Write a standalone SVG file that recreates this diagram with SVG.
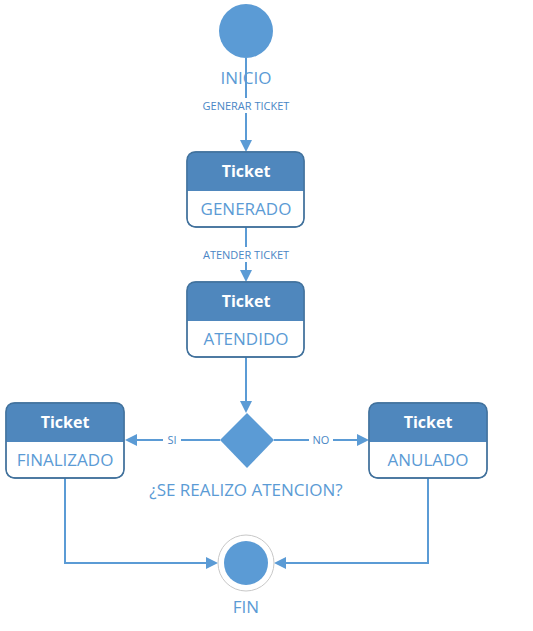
<svg xmlns="http://www.w3.org/2000/svg" width="533" height="631" viewBox="0 0 533 631">
<style>
.ln{stroke:#5b9bd5;stroke-width:2;fill:none}
.box{fill:#fff;stroke:#41719c;stroke-width:1.3}
.hdr{fill:#4f87bd}
.ttl{font-family:"Open Sans","Liberation Sans",sans-serif;font-weight:bold;font-size:16px;fill:#fff;text-anchor:middle}
.st{font-family:"Open Sans","Liberation Sans",sans-serif;font-size:17px;fill:#5b9bd5;text-anchor:middle}
.lbl{font-family:"Open Sans","Liberation Sans",sans-serif;font-size:11px;fill:#4a86c5;text-anchor:middle}
.big{font-family:"Open Sans","Liberation Sans",sans-serif;font-size:17px;fill:#5b9bd5;text-anchor:middle}
</style>
<rect width="533" height="631" fill="#fff"/>
<g id="connectors">
<line class="ln" x1="246" y1="58" x2="246" y2="141"/>
<path d="M240,140 L246,152 L252,140 Z" fill="#5b9bd5"/>
<rect x="196" y="98" width="100" height="15" fill="#fff"/>
<text class="lbl" x="246" y="110">GENERAR TICKET</text>
<line class="ln" x1="246" y1="227" x2="246" y2="271"/>
<path d="M240,270 L246,282 L252,270 Z" fill="#5b9bd5"/>
<rect x="196" y="247" width="100" height="15" fill="#fff"/>
<text class="lbl" x="246" y="259">ATENDER TICKET</text>
<line class="ln" x1="246" y1="357" x2="246" y2="402"/>
<path d="M240,401 L246,413 L252,401 Z" fill="#5b9bd5"/>
<line class="ln" x1="220" y1="440" x2="136" y2="440"/>
<path d="M137,434 L125,440 L137,446 Z" fill="#5b9bd5"/>
<rect x="163" y="432" width="18" height="15" fill="#fff"/>
<text class="lbl" x="172" y="444">SI</text>
<line class="ln" x1="274" y1="440" x2="358" y2="440"/>
<path d="M357,434 L369,440 L357,446 Z" fill="#5b9bd5"/>
<rect x="309" y="432" width="24" height="15" fill="#fff"/>
<text class="lbl" x="321" y="444">NO</text>
<polyline class="ln" points="65,478 65,563 207,563"/>
<path d="M206,557 L218,563 L206,569 Z" fill="#5b9bd5"/>
<polyline class="ln" points="428,478 428,563 285,563"/>
<path d="M286,557 L274,563 L286,569 Z" fill="#5b9bd5"/>
</g>
<g id="inicio">
<circle cx="246" cy="31" r="27" fill="#5b9bd5"/>
<text class="big" x="246" y="84">INICIO</text>
</g>
<g id="generado">
<rect class="box" x="187" y="152" width="117" height="75" rx="9"/>
<path class="hdr" d="M187,191 L187,161 Q187,152 196,152 L295,152 Q304,152 304,161 L304,191 Z"/>
<path d="M187,161 Q187,152 196,152 L295,152 Q304,152 304,161 L304,218 Q304,227 295,227 L196,227 Q187,227 187,218 Z" fill="none" stroke="#41719c" stroke-width="1.3"/>
<text class="ttl" x="246" y="177">Ticket</text>
<text class="st" x="246" y="215">GENERADO</text>
</g>
<g id="atendido">
<rect class="box" x="187" y="282" width="117" height="75" rx="9"/>
<path class="hdr" d="M187,321 L187,291 Q187,282 196,282 L295,282 Q304,282 304,291 L304,321 Z"/>
<path d="M187,291 Q187,282 196,282 L295,282 Q304,282 304,291 L304,348 Q304,357 295,357 L196,357 Q187,357 187,348 Z" fill="none" stroke="#41719c" stroke-width="1.3"/>
<text class="ttl" x="246" y="307">Ticket</text>
<text class="st" x="246" y="345">ATENDIDO</text>
</g>
<g id="decision">
<polygon points="247,413 274,440 247,468 220,440" fill="#5b9bd5"/>
<text class="big" x="246" y="496">¿SE REALIZO ATENCION?</text>
</g>
<g id="finalizado">
<rect class="box" x="6" y="403" width="118" height="75" rx="9"/>
<path class="hdr" d="M6,442 L6,412 Q6,403 15,403 L115,403 Q124,403 124,412 L124,442 Z"/>
<path d="M6,412 Q6,403 15,403 L115,403 Q124,403 124,412 L124,469 Q124,478 115,478 L15,478 Q6,478 6,469 Z" fill="none" stroke="#41719c" stroke-width="1.3"/>
<text class="ttl" x="65" y="428">Ticket</text>
<text class="st" x="65" y="466">FINALIZADO</text>
</g>
<g id="anulado">
<rect class="box" x="369" y="403" width="118" height="75" rx="9"/>
<path class="hdr" d="M369,442 L369,412 Q369,403 378,403 L478,403 Q487,403 487,412 L487,442 Z"/>
<path d="M369,412 Q369,403 378,403 L478,403 Q487,403 487,412 L487,469 Q487,478 478,478 L378,478 Q369,478 369,469 Z" fill="none" stroke="#41719c" stroke-width="1.3"/>
<text class="ttl" x="428" y="428">Ticket</text>
<text class="st" x="428" y="466">ANULADO</text>
</g>
<g id="fin">
<circle cx="246" cy="563" r="28" fill="#fff" stroke="#c8c8c8" stroke-width="1"/>
<circle cx="246" cy="563" r="22" fill="#5b9bd5"/>
<text class="big" x="246" y="613">FIN</text>
</g>
</svg>
